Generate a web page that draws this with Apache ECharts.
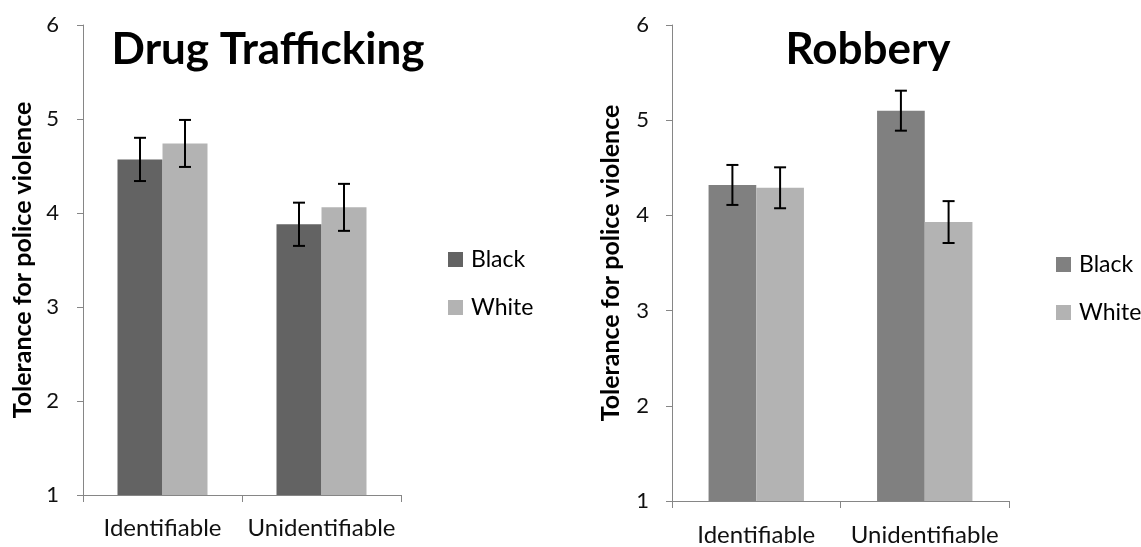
<!DOCTYPE html>
<html>
<head>
<meta charset="utf-8">
<script src="https://cdn.jsdelivr.net/npm/echarts@6/dist/echarts.min.js"></script>
<style>html,body{margin:0;padding:0;background:#fff;}#c{width:1141px;height:547px;}</style>
</head>
<body>
<div id="c"></div>
<script>
var categories = ['Identifiable', 'Unidentifiable'];
var yTicks = [1, 2, 3, 4, 5, 6];
var drugBlack = [4.57, 3.88];
var drugWhite = [4.74, 4.06];
var drugBlackErr = [0.23, 0.23];
var drugWhiteErr = [0.25, 0.25];
var robBlack = [4.32, 5.10];
var robWhite = [4.29, 3.93];
var robBlackErr = [0.21, 0.21];
var robWhiteErr = [0.215, 0.22];

var FONT = 'Lato';
var axisColor = '#868686';

function errData(vals, errs) {
  return vals.map(function (v, i) { return [i, v - errs[i], v + errs[i]]; });
}
function errSeries(vals, errs, side, gi) {
  return {
    type: 'custom', xAxisIndex: gi, yAxisIndex: gi, z: 5, silent: true,
    data: errData(vals, errs),
    renderItem: function (params, api) {
      var band = api.size([1, 0])[0];
      var off = side * 0.1415 * band;
      var lo = api.coord([api.value(0), api.value(1)]);
      var hi = api.coord([api.value(0), api.value(2)]);
      var x = lo[0] + off;
      var cap = 6;
      var st = { stroke: '#000', lineWidth: 2 };
      return { type: 'group', children: [
        { type: 'line', shape: { x1: x, y1: lo[1], x2: x, y2: hi[1] }, style: st },
        { type: 'line', shape: { x1: x - cap, y1: lo[1], x2: x + cap, y2: lo[1] }, style: st },
        { type: 'line', shape: { x1: x - cap, y1: hi[1], x2: x + cap, y2: hi[1] }, style: st }
      ]};
    }
  };
}
function xAxis(gi, margin) {
  return {
    type: 'category', gridIndex: gi, data: categories, boundaryGap: true,
    axisLine: { lineStyle: { color: axisColor, width: 1 } },
    axisTick: { show: true, length: 7, interval: 0, lineStyle: { color: axisColor } },
    axisLabel: { margin: margin, interval: 0, fontFamily: FONT, fontSize: 24, color: '#111' }
  };
}
function yAxis(gi, nameGap, margin) {
  return {
    type: 'value', gridIndex: gi, min: yTicks[0], max: yTicks[yTicks.length - 1], interval: 1,
    name: 'Tolerance for police violence', nameLocation: 'middle', nameRotate: 90, nameGap: nameGap,
    nameTextStyle: { fontFamily: FONT, fontWeight: 'bold', fontSize: 25, color: '#000' },
    axisLine: { show: true, lineStyle: { color: axisColor, width: 1 } },
    axisTick: { show: true, length: 6, lineStyle: { color: axisColor } },
    splitLine: { show: false },
    axisLabel: { margin: margin, fontFamily: FONT, fontSize: 22, color: '#111' }
  };
}
var legendFmt = function (n) { return n.split('|')[1]; };
var legendText = { fontFamily: FONT, fontSize: 23, color: '#000', lineHeight: 24, padding: [0, 0, 0, 3] };

var option = {
  animation: false,
  backgroundColor: '#fff',
  title: [
    { text: 'Drug Trafficking', left: 263, top: 23, textAlign: 'center',
      textStyle: { fontFamily: FONT, fontWeight: 'bold', fontSize: 44, color: '#000' } },
    { text: 'Robbery', left: 863, top: 23, textAlign: 'center',
      textStyle: { fontFamily: FONT, fontWeight: 'bold', fontSize: 44, color: '#000' } }
  ],
  legend: [
    { orient: 'vertical', left: 443, top: 242.5, itemWidth: 15, itemHeight: 15, itemGap: 24, icon: 'rect',
      data: ['L|Black', 'L|White'], formatter: legendFmt, textStyle: legendText, selectedMode: false },
    { orient: 'vertical', left: 1051, top: 247.5, itemWidth: 15, itemHeight: 15, itemGap: 24, icon: 'rect',
      data: ['R|Black', 'R|White'], formatter: legendFmt, textStyle: legendText, selectedMode: false }
  ],
  grid: [
    { left: 83, top: 25, width: 318, height: 470 },
    { left: 672, top: 25, width: 337, height: 479 }
  ],
  xAxis: [xAxis(0, 21), xAxis(1, 22)],
  yAxis: [yAxis(0, 48, 24), yAxis(1, 48.5, 23)],
  series: [
    { name: 'L|Black', type: 'bar', xAxisIndex: 0, yAxisIndex: 0, data: drugBlack, barGap: '0%', barCategoryGap: '43.4%', itemStyle: { color: '#636363' } },
    { name: 'L|White', type: 'bar', xAxisIndex: 0, yAxisIndex: 0, data: drugWhite, barGap: '0%', barCategoryGap: '43.4%', itemStyle: { color: '#b3b3b3' } },
    { name: 'R|Black', type: 'bar', xAxisIndex: 1, yAxisIndex: 1, data: robBlack, barGap: '0%', barCategoryGap: '43.4%', itemStyle: { color: '#808080' } },
    { name: 'R|White', type: 'bar', xAxisIndex: 1, yAxisIndex: 1, data: robWhite, barGap: '0%', barCategoryGap: '43.4%', itemStyle: { color: '#b3b3b3' } },
    errSeries(drugBlack, drugBlackErr, -1, 0),
    errSeries(drugWhite, drugWhiteErr, 1, 0),
    errSeries(robBlack, robBlackErr, -1, 1),
    errSeries(robWhite, robWhiteErr, 1, 1)
  ]
};
var chart = echarts.init(document.getElementById('c'), null, { renderer: 'canvas' });
chart.setOption(option);
</script>
</body>
</html>
